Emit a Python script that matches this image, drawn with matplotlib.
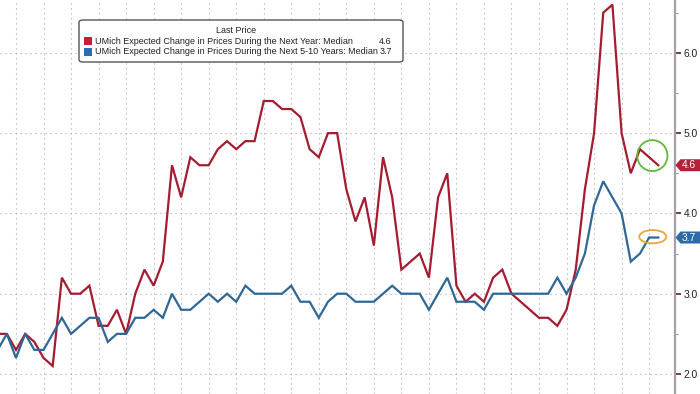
import numpy as np
import matplotlib
matplotlib.use("Agg")
import matplotlib.pyplot as plt
from matplotlib.patches import Ellipse, FancyBboxPatch, Rectangle, Polygon
from matplotlib.transforms import IdentityTransform

# ---------------- data (monthly, Oct 2019 .. Oct 2025) ----------------
one_year = [
    2.5, 2.5, 2.3,
    2.5, 2.4, 2.2, 2.1, 3.2, 3.0, 3.0, 3.1, 2.6, 2.6, 2.8, 2.5,
    3.0, 3.3, 3.1, 3.4, 4.6, 4.2, 4.7, 4.6, 4.6, 4.8, 4.9, 4.8,
    4.9, 4.9, 5.4, 5.4, 5.3, 5.3, 5.2, 4.8, 4.7, 5.0, 5.0, 4.3,
    3.9, 4.2, 3.6, 4.7, 4.2, 3.3, 3.4, 3.5, 3.2, 4.2, 4.5, 3.1,
    2.9, 3.0, 2.9, 3.2, 3.3, 3.0, 2.9, 2.8, 2.7, 2.7, 2.6, 2.8,
    3.3, 4.3, 5.0, 6.5, 6.6, 5.0, 4.5, 4.8, 4.7, 4.6,
]
five_ten_year = [
    2.3, 2.5, 2.2,
    2.5, 2.3, 2.3, 2.5, 2.7, 2.5, 2.6, 2.7, 2.7, 2.4, 2.5, 2.5,
    2.7, 2.7, 2.8, 2.7, 3.0, 2.8, 2.8, 2.9, 3.0, 2.9, 3.0, 2.9,
    3.1, 3.0, 3.0, 3.0, 3.0, 3.1, 2.9, 2.9, 2.7, 2.9, 3.0, 3.0,
    2.9, 2.9, 2.9, 3.0, 3.1, 3.0, 3.0, 3.0, 2.8, 3.0, 3.2, 2.9,
    2.9, 2.9, 2.8, 3.0, 3.0, 3.0, 3.0, 3.0, 3.0, 3.0, 3.2, 3.0,
    3.2, 3.5, 4.1, 4.4, 4.2, 4.0, 3.4, 3.5, 3.7, 3.7,
]
series_names = [
    "UMich Expected Change in Prices During the Next Year: Median",
    "UMich Expected Change in Prices During the Next 5-10 Years: Median",
]
legend_title = "Last Price"
y_ticks = [2.0, 3.0, 4.0, 5.0, 6.0]
y_tick_labels = ["2.0", "3.0", "4.0", "5.0", "6.0"]

# ---------------- styling ----------------
RED = "#a51c30"
BLUE = "#2f6796"
RED_SQ = "#c41e3a"
BLUE_SQ = "#2b6cb0"
plt.rcParams["font.family"] = ["Liberation Sans", "DejaVu Sans"]

W, H, DPI = 700, 394, 100
fig = plt.figure(figsize=(W / DPI, H / DPI), dpi=DPI)
fig.patch.set_facecolor("white")
ax = fig.add_axes([0, 0, 675 / W, 1])
ax.set_facecolor("white")

months = np.arange(len(one_year))
ax.plot(months, one_year, color=RED, lw=1.6, solid_joinstyle="miter", zorder=3)
ax.plot(months, five_ten_year, color=BLUE, lw=1.6, solid_joinstyle="miter", zorder=3)

ax.set_xlim(0.256, 73.82)
ax.set_ylim(1.751, 6.658)

# grid: quarterly vertical lines, integer horizontal lines
ax.set_xticks(np.arange(2, 72, 3))
ax.tick_params(axis="x", length=0, labelbottom=False)
ax.grid(True, which="major", color="#a8a8a8", lw=0.8, ls=(0, (1, 3.5)), zorder=0)

ax.yaxis.tick_right()
ax.set_yticks(y_ticks)
ax.set_yticklabels(y_tick_labels)
ax.set_yticks(np.arange(2.5, 6.6, 1.0), minor=True)
ax.tick_params(axis="y", which="major", direction="out", length=4, width=1.2,
               color="#6a1a2a", labelsize=7.4, labelcolor="#222222", pad=2)
ax.tick_params(axis="y", which="minor", direction="out", length=2, width=0.8,
               color="#999999")
for s in ["left", "top", "bottom"]:
    ax.spines[s].set_visible(False)
ax.spines["right"].set_color("#a8a0a8")
ax.spines["right"].set_linewidth(1.6)

# highlight ellipses around latest readings
ax.add_patch(Ellipse((71.35, 4.72), 3.3, 0.385, fill=False, ec="#5dbb3c", lw=1.3, zorder=4))
ax.add_patch(Ellipse((71.4, 3.71), 2.95, 0.165, fill=False, ec="#eea43a", lw=1.3, zorder=4))

fig.canvas.draw()

# last-value tags on the right axis
def tag(value, color):
    y = ax.transData.transform((0, value))[1]
    x0 = 675.5
    h = 6.0
    poly = Polygon([(x0, y), (x0 + 5, y + h), (W + 2, y + h), (W + 2, y - h), (x0 + 5, y - h)],
                   closed=True, transform=IdentityTransform(), fc=color, ec="none", zorder=10)
    fig.patches.append(poly)
    fig.text(688.5 / W, y / H, f"{value:.1f}", color="white", fontsize=7.4,
             ha="center", va="center", zorder=11)

tag(one_year[-1], "#b3213a")
tag(five_ten_year[-1], "#2d6aa8")

# custom legend box
bx0, bx1, by0, by1 = 79, 403, 20, 62   # pixel coords (top origin)
box = FancyBboxPatch((bx0 / W, 1 - by1 / H), (bx1 - bx0) / W, (by1 - by0) / H,
                     boxstyle="round,pad=0,rounding_size=0.006",
                     transform=fig.transFigure, fc="white", ec="#555555", lw=1.0, zorder=20)
fig.patches.append(box)

fs = 7.0
t_title = fig.text(236 / W, 1 - 30.5 / H, legend_title, ha="center", va="center",
                   fontsize=fs, color="#222222", zorder=21)
last_vals = [one_year[-1], five_ten_year[-1]]
colors_sq = [RED_SQ, BLUE_SQ]
ys = [41.0, 51.7]
labels, vals = [], []
for name, v, c, yy in zip(series_names, last_vals, colors_sq, ys):
    fig.patches.append(Rectangle((84 / W, 1 - (yy + 4) / H), 8 / W, 8 / H,
                                 transform=fig.transFigure, fc=c, ec="none", zorder=21))
    labels.append(fig.text(95 / W, 1 - yy / H, name, ha="left", va="center",
                           fontsize=fs, color="#222222", zorder=21))
    vals.append(fig.text(391.7 / W, 1 - yy / H, f"{v:.1f}", ha="right", va="center",
                         fontsize=fs, color="#222222", zorder=21))

# fit legend font so the longest line spans the box like the reference
r = fig.canvas.get_renderer()
w_lab = labels[1].get_window_extent(r).width
w_val = vals[1].get_window_extent(r).width
target = 391.7 - 95 - 4
scale = target / (w_lab + w_val)
for t in labels + vals + [t_title]:
    t.set_fontsize(fs * scale)

fig.savefig("out.png", dpi=DPI, facecolor="white")
